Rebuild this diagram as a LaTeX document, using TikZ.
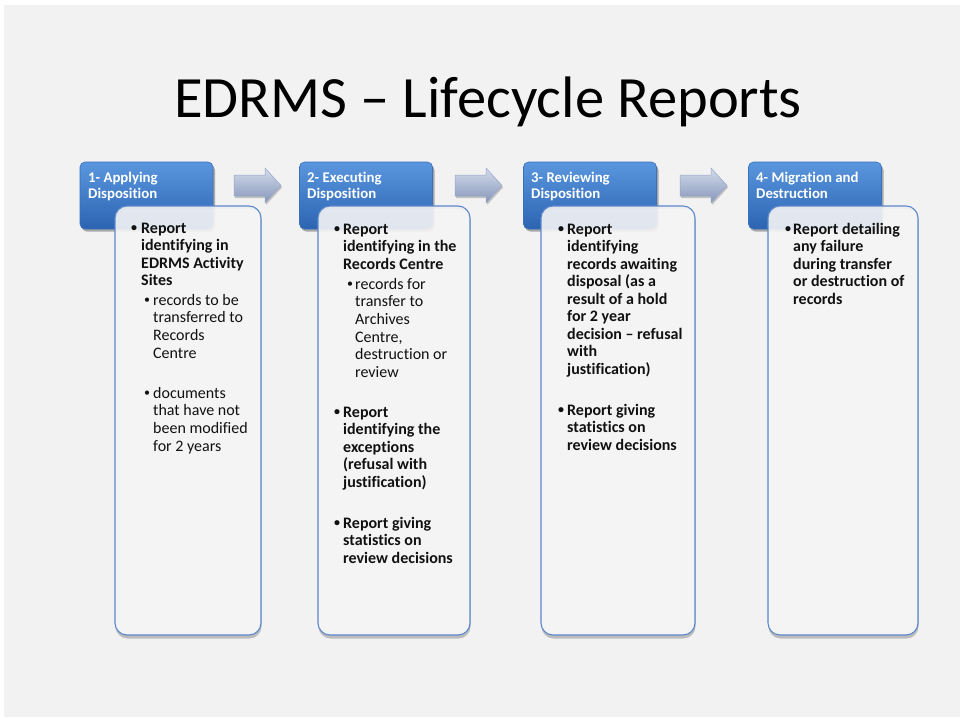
\documentclass[tikz,border=0pt]{standalone}
\usepackage{fontspec}
\setmainfont[Ligatures=NoCommon]{Carlito}

\definecolor{slidebg}{HTML}{F2F2F2}
\definecolor{hdrtop}{HTML}{5A96DE}
\definecolor{hdrbot}{HTML}{2C64B2}
\definecolor{hdredge}{HTML}{3A70BA}
\definecolor{boxedge}{HTML}{5B88CC}
\definecolor{boxfill}{HTML}{F5F5F5}
\definecolor{arrtop}{HTML}{D3DCEC}
\definecolor{arrbot}{HTML}{8696BA}
\definecolor{arredge}{HTML}{95A6C8}
\definecolor{txt}{HTML}{111111}

% a block of lines whose baseline is the first line
\newcommand\linesblock[1]{\begin{tabular}[t]{@{}l@{}}#1\end{tabular}}
% small bullet followed by such a block
\newcommand\bulitem[2]{\makebox[#1][l]{\raisebox{1.2pt}{\fontsize{12}{12}\selectfont\textbullet}}\linesblock{#2}}

\begin{document}
\begin{tikzpicture}[x=1pt,y=-1pt,
  header/.style={rounded corners=5pt, draw=hdredge, line width=0.6pt,
    top color=hdrtop, bottom color=hdrbot,
    minimum width=133pt, minimum height=67pt, inner sep=0pt},
  hdrshadow/.style={rounded corners=5pt, fill=black, opacity=0.3},
  hdrtext/.style={anchor=base west, inner sep=0pt, text=white,
    font=\fontsize{14.8}{16}\selectfont\bfseries},
  panel/.style={rounded corners=12pt, draw=boxedge, line width=1.1pt,
    fill=boxfill, fill opacity=0.9, text opacity=1,
    minimum height=429pt, inner sep=0pt},
  panelshadow/.style={fill=black, opacity=0.22, even odd rule},
  mainitem/.style={anchor=base west, inner sep=0pt, text=txt,
    font=\fontsize{16}{17.5}\selectfont\bfseries},
  subitem/.style={anchor=base west, inner sep=0pt, text=txt,
    font=\fontsize{16}{17.7}\selectfont},
  blockarrow/.style={draw=arredge, line width=0.5pt, top color=arrtop, bottom color=arrbot}
]
\useasboundingbox (0,0) rectangle (960,717);
\fill[white] (0,0) rectangle (960,717);
\fill[slidebg] (4,5) rectangle (960,717);

% title
\node[anchor=base, inner sep=0pt, text=black, font=\fontsize{58.5}{70}\selectfont]
  (title) at (488,117) {EDRMS – Lifecycle Reports};

% stage headers with their shadows
\foreach \cx in {146.5,366,590,815}{
  \fill[hdrshadow] (\cx-65,165) rectangle (\cx+68.5,231.5);
}
\node[header] (h1) at (146.5,195.5) {};
\node[header] (h2) at (366,195.5) {};
\node[header] (h3) at (590,195.5) {};
\node[header] (h4) at (815,195.5) {};

\node[hdrtext] (h1t) at (88,182) {\linesblock{1- Applying\\Disposition}};
\node[hdrtext] (h2t) at (307,182) {\linesblock{2- Executing\\Disposition}};
\node[hdrtext] (h3t) at (531,182) {\linesblock{3- Reviewing\\Disposition}};
\node[hdrtext] (h4t) at (756,182) {\linesblock{4- Migration and\\Destruction}};

% arrows between stages
\foreach \ax in {234,455,680}{
  \fill[black, opacity=0.2] (\ax+1,177) -- (\ax+32,177) -- (\ax+32,170) -- (\ax+48,187.5)
    -- (\ax+32,205) -- (\ax+32,198) -- (\ax+1,198) -- cycle;
  \draw[blockarrow] (\ax,175) -- (\ax+31,175) -- (\ax+31,168) -- (\ax+47,185.5)
    -- (\ax+31,203) -- (\ax+31,196) -- (\ax,196) -- cycle;
}

% shadows under the report panels, kept outside the panels themselves
\foreach \l/\r in {115/261,318/470,541/695,768/918}{
  \fill[panelshadow]
    [rounded corners=12pt] (\l+0.5,209) rectangle (\r+0.5,638.5)
    [rounded corners=12pt] (\l,206) rectangle (\r,635);
}

% report panels
\node[panel, minimum width=146pt] (b1) at (188,420.5) {};
\node[panel, minimum width=152pt] (b2) at (394,420.5) {};
\node[panel, minimum width=154pt] (b3) at (618,420.5) {};
\node[panel, minimum width=150pt] (b4) at (843,420.5) {};

% panel 1
\node[mainitem] (b1a) at (131,233) {\bulitem{10pt}{Report\\identifying in\\EDRMS Activity\\Sites}};
\node[subitem] (b1b) at (144,305) {\bulitem{9pt}{records to be\\transferred to\\Records\\Centre}};
\node[subitem] (b1c) at (144,398) {\bulitem{9pt}{documents\\that have not\\been modified\\for 2 years}};

% panel 2
\node[mainitem] (b2a) at (334,234) {\bulitem{9pt}{Report\\identifying in the\\Records Centre}};
\node[subitem] (b2b) at (347,289) {\bulitem{8pt}{records for\\transfer to\\Archives\\Centre,\\destruction or\\review}};
\node[mainitem] (b2c) at (334,417) {\bulitem{9pt}{Report\\identifying the\\exceptions\\(refusal with\\justification)}};
\node[mainitem] (b2d) at (334,528) {\bulitem{9pt}{Report giving\\statistics on\\review decisions}};

% panel 3
\node[mainitem] (b3a) at (558,234) {\bulitem{9pt}{Report\\identifying\\records awaiting\\disposal (as a\\result of a hold\\for 2 year\\decision – refusal\\with\\justification)}};
\node[mainitem] (b3b) at (558,415) {\bulitem{9pt}{Report giving\\statistics on\\review decisions}};

% panel 4
\node[mainitem] (b4a) at (785,234) {\bulitem{8pt}{Report detailing\\any failure\\during transfer\\or destruction of\\records}};
\end{tikzpicture}
\end{document}
